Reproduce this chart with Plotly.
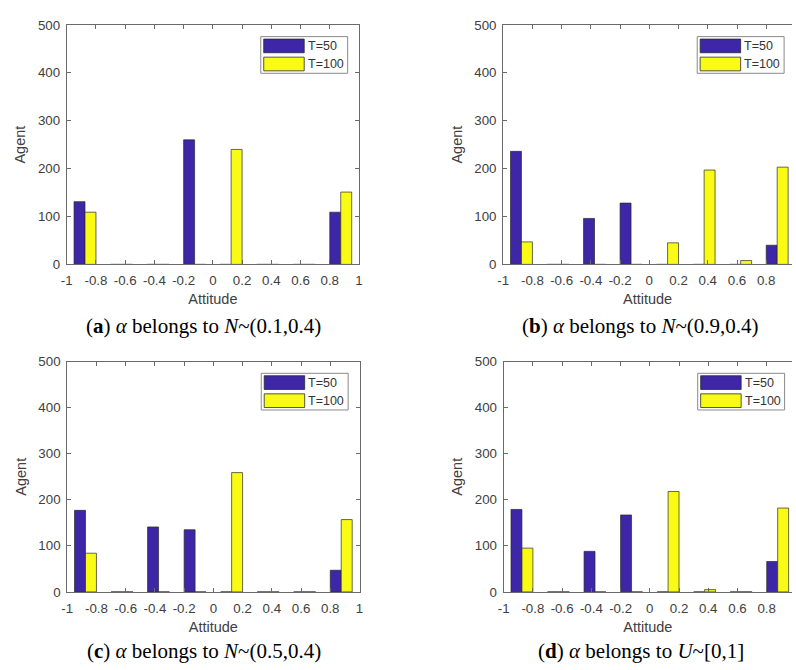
import plotly.graph_objects as go

# ---------------- data ----------------
bin_centers = [-0.875, -0.625, -0.375, -0.125, 0.125, 0.375, 0.625, 0.875]
series_names = ["T=50", "T=100"]

t50_a = [131, 0, 0, 260, 0, 0, 0, 109]
t100_a = [109, 0, 0, 0, 240, 0, 0, 151]

t50_b = [236, 0, 96, 128, 0, 0, 0, 40]
t100_b = [47, 0, 0, 0, 45, 197, 8, 203]

t50_c = [177, 0, 141, 135, 0, 0, 0, 47]
t100_c = [84, 0, 0, 0, 259, 0, 0, 157]

t50_d = [179, 0, 88, 167, 0, 0, 0, 66]
t100_d = [95, 0, 0, 0, 218, 5, 0, 182]

x_tickvals = [-1, -0.8, -0.6, -0.4, -0.2, 0, 0.2, 0.4, 0.6, 0.8, 1]
x_ticktext = ["-1", "-0.8", "-0.6", "-0.4", "-0.2", "0", "0.2", "0.4", "0.6", "0.8", "1"]
y_tickvals = [0, 100, 200, 300, 400, 500]
y_ticktext = ["0", "100", "200", "300", "400", "500"]

captions = [
    "(<b>a</b>) <i>α</i> belongs to <i>N</i>~(0.1,0.4)",
    "(<b>b</b>) <i>α</i> belongs to <i>N</i>~(0.9,0.4)",
    "(<b>c</b>) <i>α</i> belongs to <i>N</i>~(0.5,0.4)",
    "(<b>d</b>) <i>α</i> belongs to <i>U</i>~[0,1]",
]

# ---------------- style / layout ----------------
W, H = 796, 670
FULL_W = 296.0  # full plot width (pixels) for x range [-1, 1]
BLUE = "#3E26A8"
YELLOW = "#F9FB15"
AX = "#6a6a6a"
TXT = "#404040"
SANS = "Liberation Sans, Arial, sans-serif"
SERIF = "Liberation Serif, Times New Roman, serif"

# panel geometry in pixels: (left, right, top, bottom)
panels = [
    (61.5, 357.5, 18.3, 263.3),
    (503.5, 796.0, 18.3, 263.3),
    (62.0, 358.0, 362.7, 598.3),
    (504.0, 796.0, 362.7, 598.3),
]
caption_pos = [(200, 326), (643, 326), (201, 659), (643, 659)]
data = [(t50_a, t100_a), (t50_b, t100_b), (t50_c, t100_c), (t50_d, t100_d)]

fig = go.Figure()
layout = dict(
    width=W, height=H, autosize=False,
    margin=dict(l=0, r=0, t=0, b=0),
    paper_bgcolor="white", plot_bgcolor="white",
    barmode="group", bargap=0.4, bargroupgap=0.0,
    showlegend=False,
)
shapes = []
annotations = []

def px(x):
    return x / W

def py(y):
    return 1 - y / H

for i, ((L, R, T, B), (s50, s100)) in enumerate(zip(panels, data)):
    k = "" if i == 0 else str(i + 1)
    xa, ya = "x" + k, "y" + k
    for vals, name, col in [(s50, series_names[0], BLUE), (s100, series_names[1], YELLOW)]:
        fig.add_trace(go.Bar(
            x=bin_centers, y=vals, name=name, xaxis=xa, yaxis=ya,
            marker=dict(color=col, line=dict(color="#2a2a2a", width=0.7)),
            offsetgroup=name,
        ))
    right_panel = R >= W - 0.5
    xr = [-1, -1 + 2.0 * (R - L) / FULL_W] if right_panel else [-1, 1]
    layout["xaxis" + k] = dict(
        domain=[px(L), px(R)], range=xr, anchor=ya,
        tickvals=x_tickvals, ticktext=x_ticktext,
        ticks="inside", ticklen=4, tickcolor=AX, tickwidth=1,
        showline=True, linecolor=AX, linewidth=1, mirror="ticks",
        showgrid=False, zeroline=False,
        tickfont=dict(family=SANS, size=13.3, color=TXT),
        title=dict(text="Attitude", font=dict(family=SANS, size=14.5, color=TXT), standoff=6),
        ticklabelstandoff=4,
    )
    layout["yaxis" + k] = dict(
        domain=[py(B), py(T)], range=[0, 500], anchor=xa,
        tickvals=y_tickvals, ticktext=y_ticktext,
        ticks="inside", ticklen=4, tickcolor=AX, tickwidth=1,
        showline=True, linecolor=AX, linewidth=1,
        mirror=False if right_panel else "ticks",
        showgrid=False, zeroline=False,
        tickfont=dict(family=SANS, size=13.3, color=TXT),
        title=dict(text="Agent", font=dict(family=SANS, size=14.5, color=TXT), standoff=8),
        ticklabelstandoff=3,
    )
    # legend box drawn as decoration
    bx0, bx1 = L + 196.5, L + 284.5
    by0, by1 = T + 12, T + 49.5
    shapes.append(dict(type="rect", xref="paper", yref="paper",
                       x0=px(bx0), x1=px(bx1), y0=py(by1), y1=py(by0),
                       line=dict(color="#8a8a8a", width=1), fillcolor="white", layer="above"))
    for j, (name, col) in enumerate([(series_names[0], BLUE), (series_names[1], YELLOW)]):
        sy0 = by0 + 2.5 + j * 18.5
        sy1 = sy0 + 14
        shapes.append(dict(type="rect", xref="paper", yref="paper",
                           x0=px(bx0 + 3), x1=px(bx0 + 44), y0=py(sy1), y1=py(sy0),
                           line=dict(color="#2a2a2a", width=0.8), fillcolor=col, layer="above"))
        annotations.append(dict(xref="paper", yref="paper", x=px(bx0 + 45.5), y=py((sy0 + sy1) / 2),
                                text=name, showarrow=False, xanchor="left", yanchor="middle",
                                font=dict(family=SANS, size=12.5, color="#333333")))
    cx, cy = caption_pos[i]
    annotations.append(dict(xref="paper", yref="paper", x=px(cx), y=py(cy),
                            text=captions[i], showarrow=False, xanchor="center", yanchor="middle",
                            font=dict(family=SERIF, size=21, color="black")))

layout["shapes"] = shapes
layout["annotations"] = annotations
fig.update_layout(**layout)
fig.write_html("out.html")
